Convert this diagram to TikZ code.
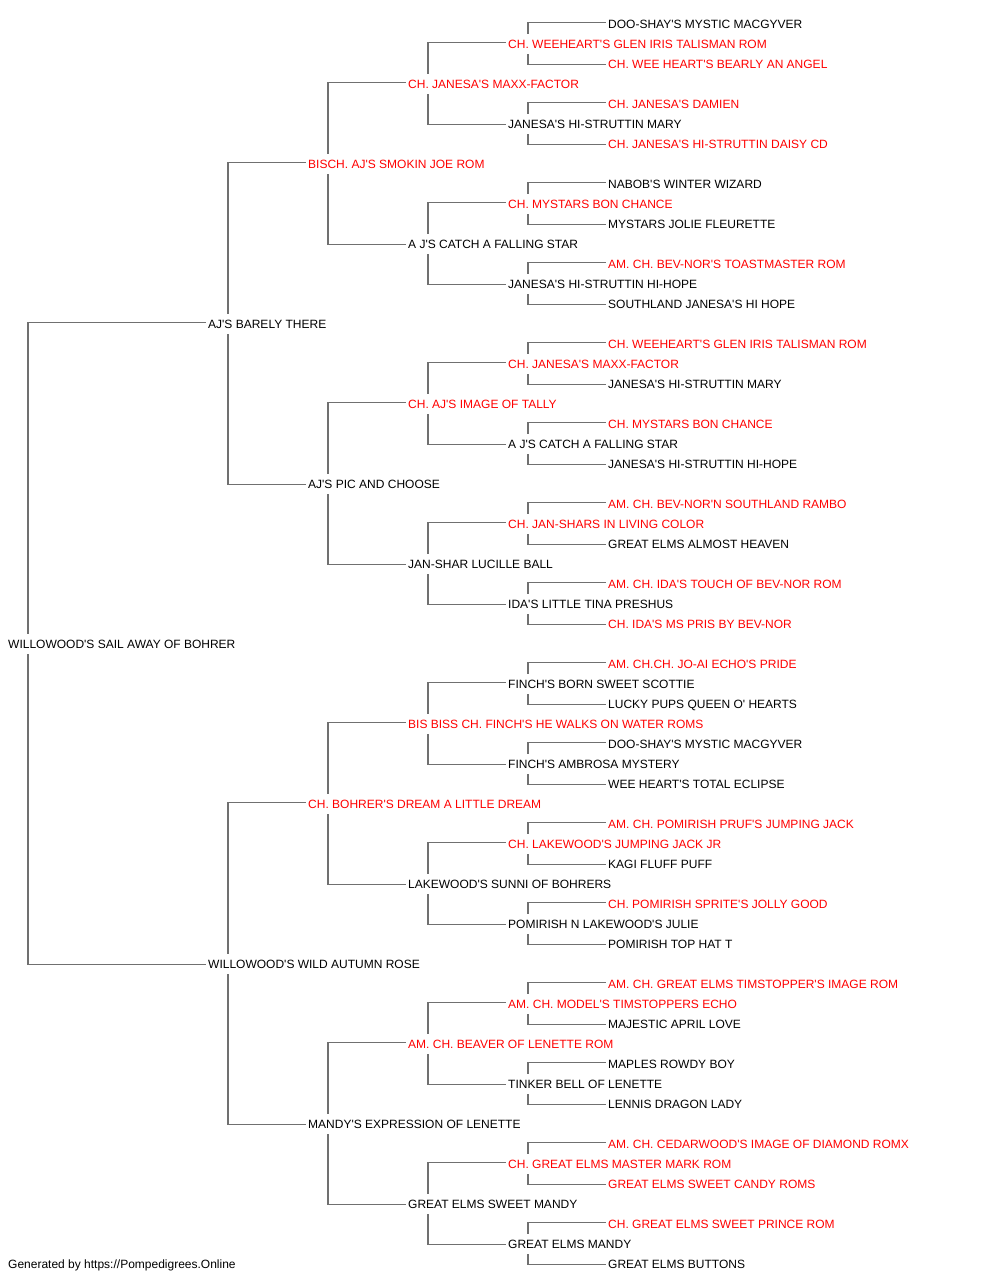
\documentclass[tikz,border=0pt]{standalone}
\usepackage{fontspec}
\setmainfont{Liberation Sans}[Ligatures=TeXOff]
\definecolor{pedred}{HTML}{FF0000}
\definecolor{pedline}{HTML}{707070}
\newcommand\pedfont{\fontsize{12}{14}\selectfont}
\newcommand\pedlink[2]{%
  \pgfmathtruncatemacro\ca{#1-#2}%
  \pgfmathtruncatemacro\cb{#1+#2}%
  \draw[ln] ([xshift=-3pt,yshift=1.6pt]n\ca.west) -| ([xshift=20pt]n#1.north west);
  \draw[ln] ([xshift=-3pt,yshift=-0.5pt]n\cb.west) -| ([xshift=20pt]n#1.south west);
}
\tikzset{
  nm/.style={anchor=west, inner xsep=0pt, inner ysep=6pt, text height=8.6pt, text depth=0pt, font=\pedfont, text=black},
  ch/.style={nm, text=pedred},
  ln/.style={draw=pedline, line width=1.6pt, line cap=rect}
}
\begin{document}
\begin{tikzpicture}[x=1pt,y=1pt]
\useasboundingbox[fill=white] (0,0) rectangle (1000,-1280);
% generation 5
\node[nm] (n0)  at (608,{-(24+20*0)})  {DOO-SHAY'S MYSTIC MACGYVER};
\node[ch] (n2)  at (608,{-(24+20*2)})  {CH. WEE HEART'S BEARLY AN ANGEL};
\node[ch] (n4)  at (608,{-(24+20*4)})  {CH. JANESA'S DAMIEN};
\node[ch] (n6)  at (608,{-(24+20*6)})  {CH. JANESA'S HI-STRUTTIN DAISY CD};
\node[nm] (n8)  at (608,{-(24+20*8)})  {NABOB'S WINTER WIZARD};
\node[nm] (n10) at (608,{-(24+20*10)}) {MYSTARS JOLIE FLEURETTE};
\node[ch] (n12) at (608,{-(24+20*12)}) {AM. CH. BEV-NOR'S TOASTMASTER ROM};
\node[nm] (n14) at (608,{-(24+20*14)}) {SOUTHLAND JANESA'S HI HOPE};
\node[ch] (n16) at (608,{-(24+20*16)}) {CH. WEEHEART'S GLEN IRIS TALISMAN ROM};
\node[nm] (n18) at (608,{-(24+20*18)}) {JANESA'S HI-STRUTTIN MARY};
\node[ch] (n20) at (608,{-(24+20*20)}) {CH. MYSTARS BON CHANCE};
\node[nm] (n22) at (608,{-(24+20*22)}) {JANESA'S HI-STRUTTIN HI-HOPE};
\node[ch] (n24) at (608,{-(24+20*24)}) {AM. CH. BEV-NOR'N SOUTHLAND RAMBO};
\node[nm] (n26) at (608,{-(24+20*26)}) {GREAT ELMS ALMOST HEAVEN};
\node[ch] (n28) at (608,{-(24+20*28)}) {AM. CH. IDA'S TOUCH OF BEV-NOR ROM};
\node[ch] (n30) at (608,{-(24+20*30)}) {CH. IDA'S MS PRIS BY BEV-NOR};
\node[ch] (n32) at (608,{-(24+20*32)}) {AM. CH.CH. JO-AI ECHO'S PRIDE};
\node[nm] (n34) at (608,{-(24+20*34)}) {LUCKY PUPS QUEEN O' HEARTS};
\node[nm] (n36) at (608,{-(24+20*36)}) {DOO-SHAY'S MYSTIC MACGYVER};
\node[nm] (n38) at (608,{-(24+20*38)}) {WEE HEART'S TOTAL ECLIPSE};
\node[ch] (n40) at (608,{-(24+20*40)}) {AM. CH. POMIRISH PRUF'S JUMPING JACK};
\node[nm] (n42) at (608,{-(24+20*42)}) {KAGI FLUFF PUFF};
\node[ch] (n44) at (608,{-(24+20*44)}) {CH. POMIRISH SPRITE'S JOLLY GOOD};
\node[nm] (n46) at (608,{-(24+20*46)}) {POMIRISH TOP HAT T};
\node[ch] (n48) at (608,{-(24+20*48)}) {AM. CH. GREAT ELMS TIMSTOPPER'S IMAGE ROM};
\node[nm] (n50) at (608,{-(24+20*50)}) {MAJESTIC APRIL LOVE};
\node[nm] (n52) at (608,{-(24+20*52)}) {MAPLES ROWDY BOY};
\node[nm] (n54) at (608,{-(24+20*54)}) {LENNIS DRAGON LADY};
\node[ch] (n56) at (608,{-(24+20*56)}) {AM. CH. CEDARWOOD'S IMAGE OF DIAMOND ROMX};
\node[ch] (n58) at (608,{-(24+20*58)}) {GREAT ELMS SWEET CANDY ROMS};
\node[ch] (n60) at (608,{-(24+20*60)}) {CH. GREAT ELMS SWEET PRINCE ROM};
\node[nm] (n62) at (608,{-(24+20*62)}) {GREAT ELMS BUTTONS};
% generation 4
\node[ch] (n1)  at (508,{-(24+20*1)})  {CH. WEEHEART'S GLEN IRIS TALISMAN ROM};
\node[nm] (n5)  at (508,{-(24+20*5)})  {JANESA'S HI-STRUTTIN MARY};
\node[ch] (n9)  at (508,{-(24+20*9)})  {CH. MYSTARS BON CHANCE};
\node[nm] (n13) at (508,{-(24+20*13)}) {JANESA'S HI-STRUTTIN HI-HOPE};
\node[ch] (n17) at (508,{-(24+20*17)}) {CH. JANESA'S MAXX-FACTOR};
\node[nm] (n21) at (508,{-(24+20*21)}) {A J'S CATCH A FALLING STAR};
\node[ch] (n25) at (508,{-(24+20*25)}) {CH. JAN-SHARS IN LIVING COLOR};
\node[nm] (n29) at (508,{-(24+20*29)}) {IDA'S LITTLE TINA PRESHUS};
\node[nm] (n33) at (508,{-(24+20*33)}) {FINCH'S BORN SWEET SCOTTIE};
\node[nm] (n37) at (508,{-(24+20*37)}) {FINCH'S AMBROSA MYSTERY};
\node[ch] (n41) at (508,{-(24+20*41)}) {CH. LAKEWOOD'S JUMPING JACK JR};
\node[nm] (n45) at (508,{-(24+20*45)}) {POMIRISH N LAKEWOOD'S JULIE};
\node[ch] (n49) at (508,{-(24+20*49)}) {AM. CH. MODEL'S TIMSTOPPERS ECHO};
\node[nm] (n53) at (508,{-(24+20*53)}) {TINKER BELL OF LENETTE};
\node[ch] (n57) at (508,{-(24+20*57)}) {CH. GREAT ELMS MASTER MARK ROM};
\node[nm] (n61) at (508,{-(24+20*61)}) {GREAT ELMS MANDY};
% generation 3
\node[ch] (n3)  at (408,{-(24+20*3)})  {CH. JANESA'S MAXX-FACTOR};
\node[nm] (n11) at (408,{-(24+20*11)}) {A J'S CATCH A FALLING STAR};
\node[ch] (n19) at (408,{-(24+20*19)}) {CH. AJ'S IMAGE OF TALLY};
\node[nm] (n27) at (408,{-(24+20*27)}) {JAN-SHAR LUCILLE BALL};
\node[ch] (n35) at (408,{-(24+20*35)}) {BIS BISS CH. FINCH'S HE WALKS ON WATER ROMS};
\node[nm] (n43) at (408,{-(24+20*43)}) {LAKEWOOD'S SUNNI OF BOHRERS};
\node[ch] (n51) at (408,{-(24+20*51)}) {AM. CH. BEAVER OF LENETTE ROM};
\node[nm] (n59) at (408,{-(24+20*59)}) {GREAT ELMS SWEET MANDY};
% generation 2
\node[ch] (n7)  at (308,{-(24+20*7)})  {BISCH. AJ'S SMOKIN JOE ROM};
\node[nm] (n23) at (308,{-(24+20*23)}) {AJ'S PIC AND CHOOSE};
\node[ch] (n39) at (308,{-(24+20*39)}) {CH. BOHRER'S DREAM A LITTLE DREAM};
\node[nm] (n55) at (308,{-(24+20*55)}) {MANDY'S EXPRESSION OF LENETTE};
% generation 1
\node[nm] (n15) at (208,{-(24+20*15)}) {AJ'S BARELY THERE};
\node[nm] (n47) at (208,{-(24+20*47)}) {WILLOWOOD'S WILD AUTUMN ROSE};
% root
\node[nm] (n31) at (8,{-(24+20*31)}) {WILLOWOOD'S SAIL AWAY OF BOHRER};
% footer
\node[nm] (foot) at (8,{-(24+20*62)}) {Generated by https://Pompedigrees.Online};
% connectors
\foreach \p in {1,5,...,61} {\pedlink{\p}{1}}
\foreach \p in {3,11,...,59} {\pedlink{\p}{2}}
\foreach \p in {7,23,39,55} {\pedlink{\p}{4}}
\foreach \p in {15,47} {\pedlink{\p}{8}}
\pedlink{31}{16}
\end{tikzpicture}
\end{document}
